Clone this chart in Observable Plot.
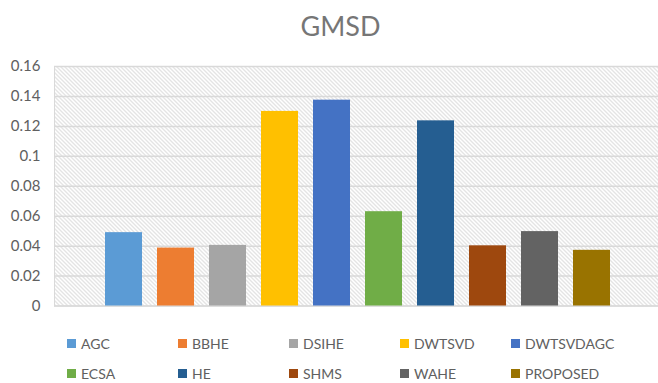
<!DOCTYPE html>
<html>
<head>
<meta charset="utf-8">
<script src="https://cdn.jsdelivr.net/npm/d3@7"></script>
<script src="https://cdn.jsdelivr.net/npm/@observablehq/plot@0.6"></script>
<style>
  html, body { margin: 0; padding: 0; background: #fff; }
  body { position: relative; width: 658px; height: 383px; overflow: hidden; font-family: Lato, "Open Sans", sans-serif; }
  #title { position: absolute; top: 12px; left: 0; width: 658px; padding-left: 23px; box-sizing: border-box; text-align: center; font-size: 27px; line-height: 27px; color: #767676; }
  #chart { position: absolute; top: 50px; left: 0; }
  .lrow { position: absolute; left: 67px; height: 20px; display: flex; align-items: center; }
  .litem { width: 111px; display: flex; align-items: center; font-size: 14px; color: #606060; white-space: nowrap; }
  .sw { width: 9px; height: 9px; margin-right: 5px; flex: none; }
</style>
</head>
<body>
<div id="title">GMSD</div>
<div id="chart"></div>
<div class="lrow" id="row1" style="top:333px"></div>
<div class="lrow" id="row2" style="top:363px"></div>
<script>
const names = ["AGC","BBHE","DSIHE","DWTSVD","DWTSVDAGC","ECSA","HE","SHMS","WAHE","PROPOSED"];
const values = [0.049, 0.0387, 0.0405, 0.130, 0.1375, 0.063, 0.1237, 0.0402, 0.0497, 0.0372];
const colors = ["#5B9BD5","#ED7D31","#A5A5A5","#FFC000","#4472C4","#70AD47","#255E91","#9E480E","#636363","#997300"];
const yTicks = [0, 0.02, 0.04, 0.06, 0.08, 0.10, 0.12, 0.14, 0.16];
const yTickLabels = ["0","0.02","0.04","0.06","0.08","0.1","0.12","0.14","0.16"];

const chart = Plot.plot({
  width: 658,
  height: 270,
  marginTop: 16,
  marginBottom: 14.5,
  marginLeft: 54,
  marginRight: 0,
  style: { fontFamily: "Lato, 'Open Sans', sans-serif", fontSize: "15px", color: "#606060", background: "transparent", overflow: "visible" },
  x: { domain: names, range: [96, 618], paddingInner: 0.29, paddingOuter: 0.145, axis: null },
  y: { domain: [0, 0.16], axis: null },
  color: { domain: names, range: colors },
  marks: [
    Plot.frame({ fill: "url(#hatch)", stroke: "#d9d9d9" }),
    Plot.gridY(yTicks, { stroke: "#d9d9d9", strokeOpacity: 1, strokeWidth: 1.5 }),
    Plot.barY(names, { x: d => d, y: (d, i) => values[i], fill: d => d }),
    Plot.axisY(yTicks, { tickSize: 0, tickPadding: 14, tickFormat: d => yTickLabels[yTicks.indexOf(d)], label: null, fontSize: 15 })
  ]
});

const ns = "http://www.w3.org/2000/svg";
const defs = document.createElementNS(ns, "defs");
defs.innerHTML = '<pattern id="hatch" width="4" height="4" patternUnits="userSpaceOnUse">' +
  '<rect width="4" height="4" fill="#ffffff"/>' +
  '<path d="M-1,-1L5,5M-1,3L1,5M3,-1L5,1" stroke="#c9c9c9" stroke-width="1"/></pattern>';
chart.insertBefore(defs, chart.firstChild);
document.getElementById("chart").appendChild(chart);

// Legend
names.forEach((n, i) => {
  const row = document.getElementById(i < 5 ? "row1" : "row2");
  const item = document.createElement("div");
  item.className = "litem";
  const sw = document.createElement("span");
  sw.className = "sw";
  sw.style.background = colors[i];
  const t = document.createElement("span");
  t.textContent = n;
  item.appendChild(sw);
  item.appendChild(t);
  row.appendChild(item);
});
</script>
</body>
</html>
